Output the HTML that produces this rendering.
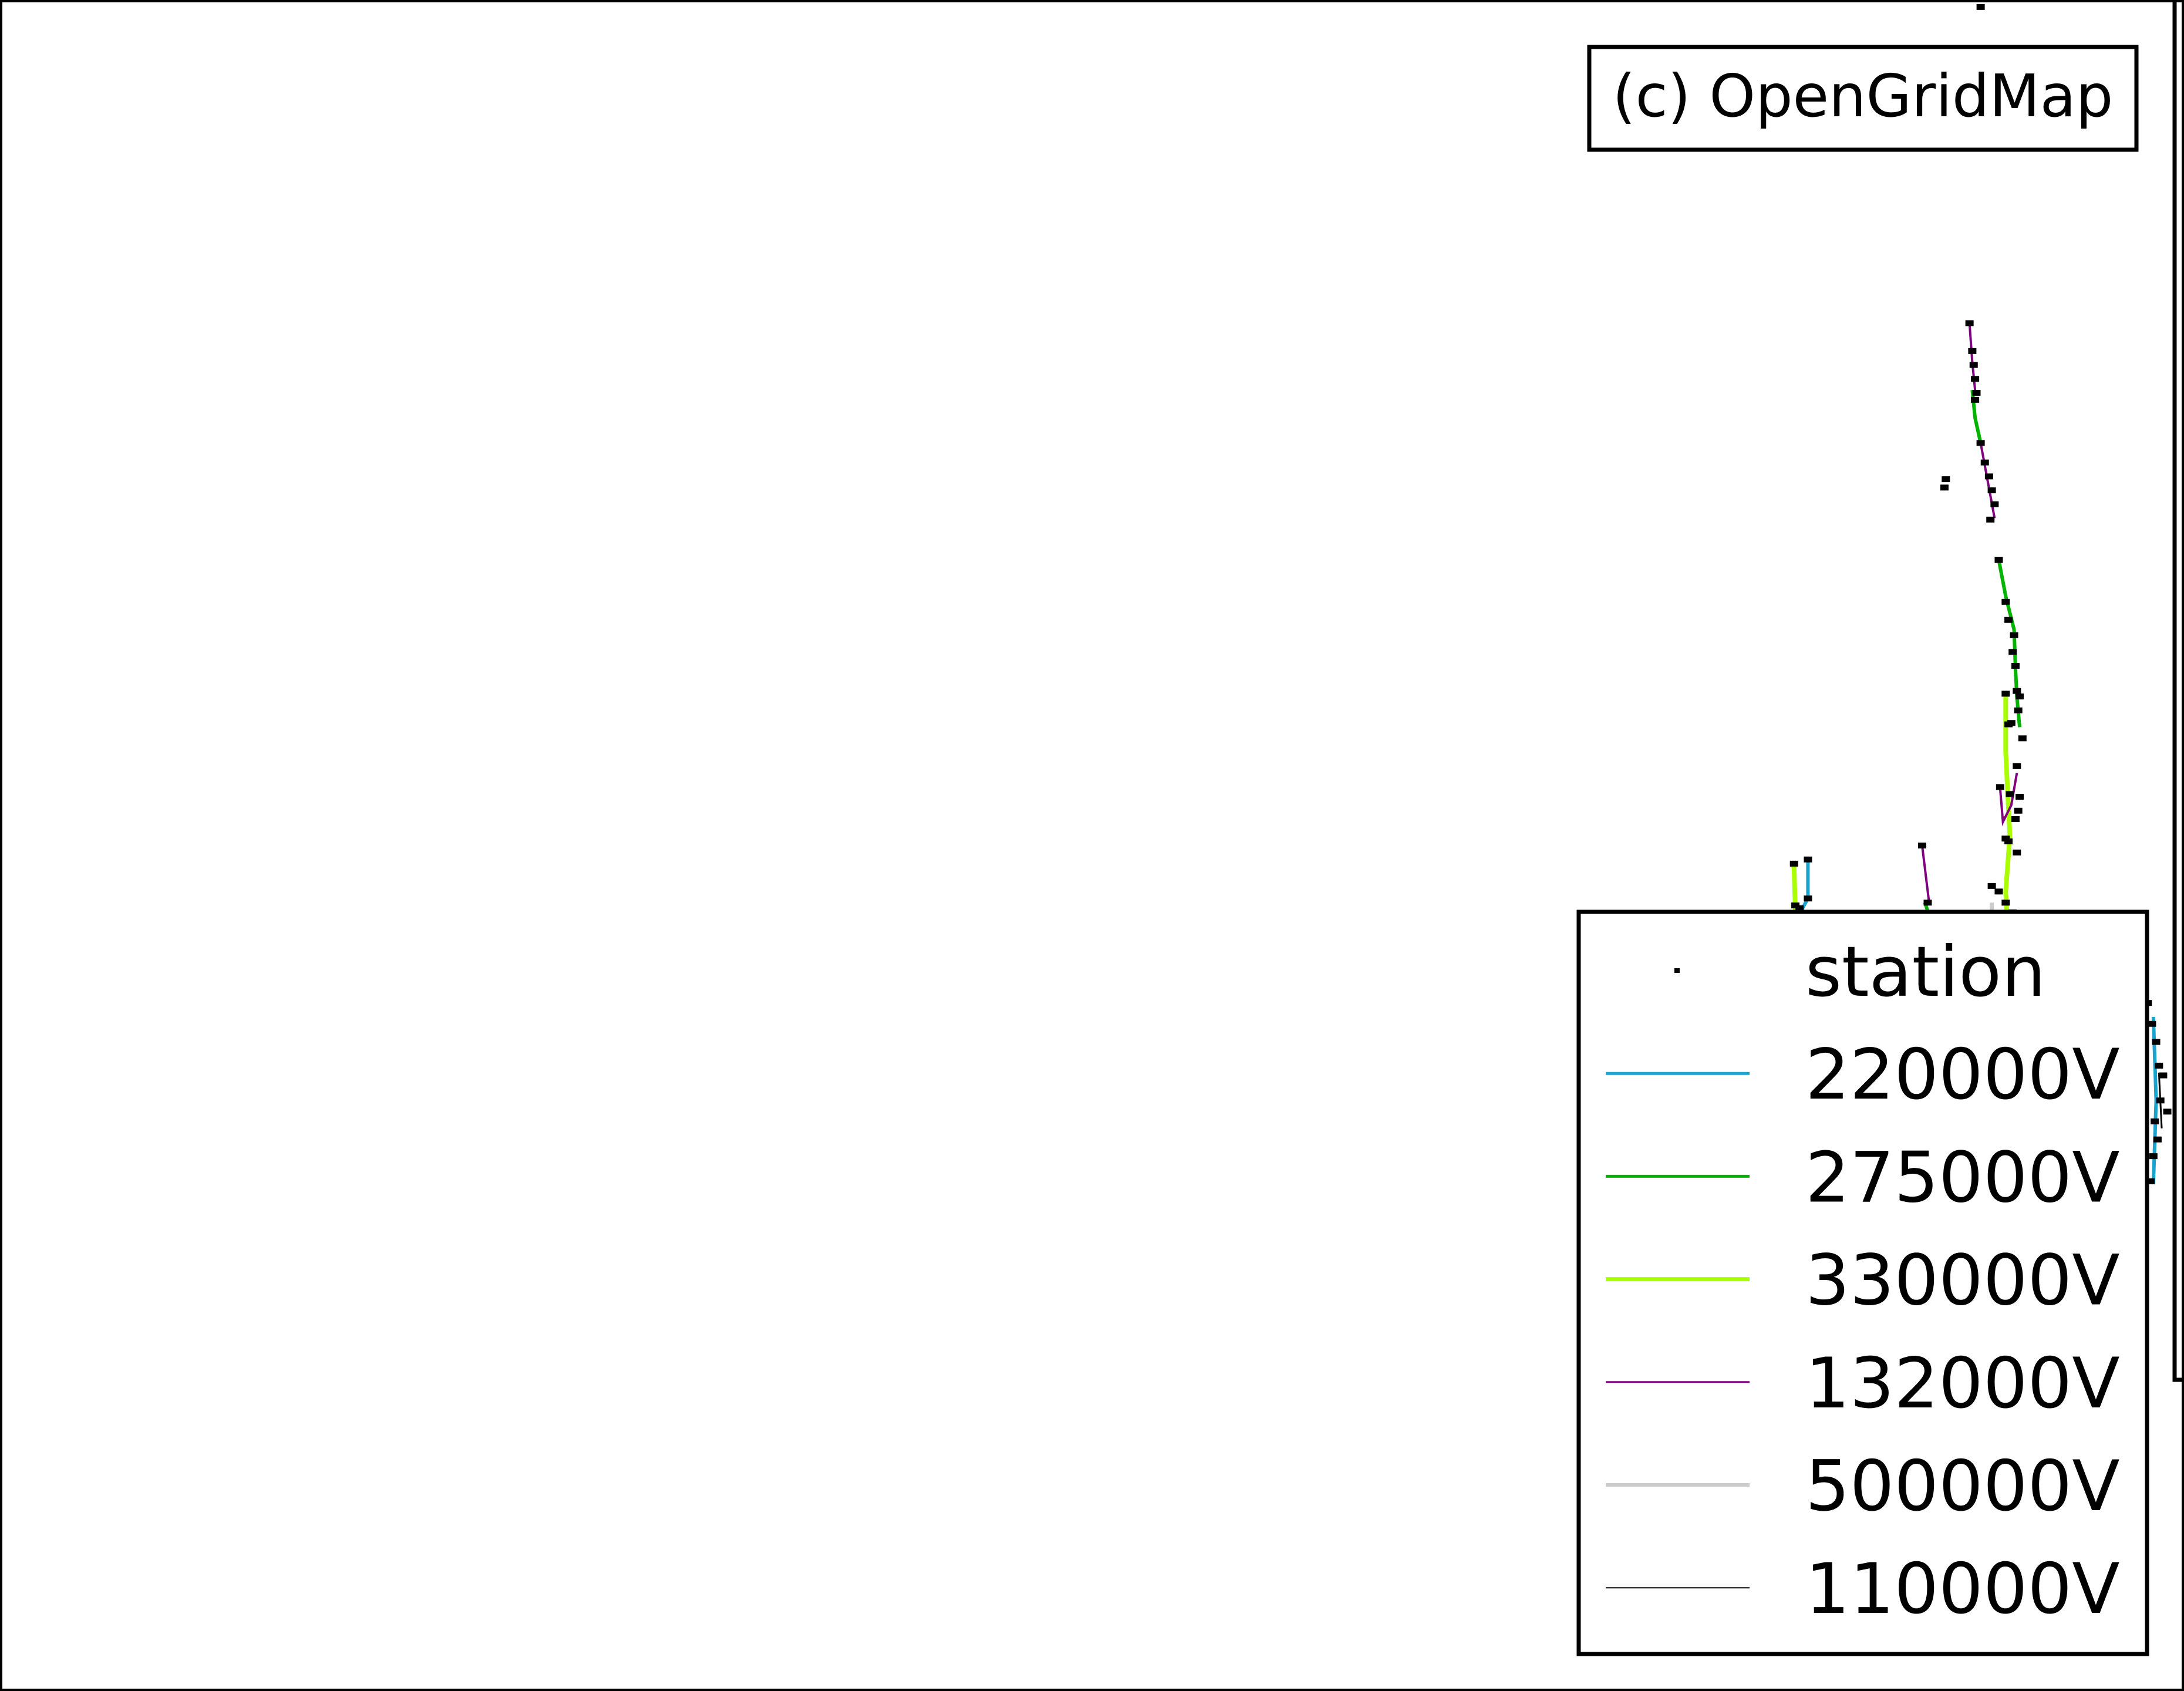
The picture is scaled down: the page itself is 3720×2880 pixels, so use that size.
<!DOCTYPE html>
<html><head><meta charset="utf-8"><style>
html,body{margin:0;padding:0;background:#fff}
svg{display:block}
text{font-family:"DejaVu Sans","Liberation Sans",sans-serif}
</style></head><body>
<svg id="chart" width="3720" height="2880" viewBox="0 0 3720 2880" xmlns="http://www.w3.org/2000/svg">
<rect x="2" y="2" width="3716" height="2876" fill="#fff" stroke="#000" stroke-width="4"/>
<polyline points="3704,0 3704,2350 3720,2350" fill="none" stroke="#000" stroke-width="7"/>
<g id="lines"></g>
<g id="stations"></g>
<g>
<rect x="2707" y="80" width="932" height="175" fill="#fff" stroke="#000" stroke-width="7"/>
<text x="3173" y="198" font-size="100" text-anchor="middle">(c) OpenGridMap</text>
</g>
<g id="legend">
<rect x="2689" y="1553" width="968" height="1264" fill="#fff" stroke="#000" stroke-width="7"/>
</g>
</svg>
<script>
// map coordinates (projected units)
const lines132 = [[[1414,232],[1416,260],[1418,280]],[[1422,318],[1427,345],[1432,372]],[[1380,607],[1385,648]],[[1436,566],[1438,590],[1444,578],[1448,555]],[[1412,780],[1414,790]]];
const lines275 = [[[1416,280],[1418,300],[1422,318]],[[1435,402],[1440,428],[1446,452],[1447,480],[1448,500],[1450,522]],[[1382,648],[1386,660]]];
const lines330 = [[[1440,500],[1440,540],[1443,600],[1440,640],[1441,660]],[[1288,622],[1289,654]]];
const lines220 = [[[1298,617],[1298,645],[1293,654]],[[1546,730],[1548,790],[1546,850]]];
const lines500 = [[[1430,648],[1430,660]]];
const lines110 = [[[1550,770],[1552,810]]];
const stationLon = [1422,1414,1416,1417,1418,1419,1418,1422,1425,1428,1430,1432,1429,1397,1396,1435,1440,1442,1446,1445,1447,1448,1440,1450,1449,1442,1444,1452,1448,1436,1443,1449,1447,1450,1440,1442,1448,1380,1384,1288,1289,1298,1298,1292,1430,1435,1440,1445,1542,1545,1548,1550,1553,1551,1547,1549,1546,1556,1544];
const stationLat = [5,232,252,262,272,282,287,318,332,342,352,362,373,344,350,402,432,445,456,468,478,496,498,500,510,520,519,530,550,565,570,582,588,572,602,604,612,607,648,620,650,617,645,652,636,640,648,655,720,735,748,765,772,790,805,818,830,798,848];
const legendLabels = ["station","220000V","275000V","330000V","132000V","500000V","110000V"];
const legendColors = [null,"#1aa3cc","#00b400","#aaff00","#800080","#cccccc","#000000"];
const legendWidths = [0,5,5,7,3,6,2];

const S = 3720/1568;
const xs = v => v*S, ys = v => v*S;
const NS = "http://www.w3.org/2000/svg";
const lg = document.getElementById('lines');
function drawSet(sets, color, w, name){
  sets.forEach(pts=>{
    const p = document.createElementNS(NS,'polyline');
    p.setAttribute('points', pts.map(q=>xs(q[0])+','+ys(q[1])).join(' '));
    p.setAttribute('fill','none'); p.setAttribute('stroke',color); p.setAttribute('stroke-width',w);
    
    
    lg.appendChild(p);
  });
}
drawSet(lines500,"#cccccc",7,'line-500kv');
drawSet(lines330,"#aaff00",8,'line-330kv');
drawSet(lines275,"#00b400",6,'line-275kv');
drawSet(lines220,"#1aa3cc",6,'line-220kv');
drawSet(lines132,"#800080",4,'line-132kv');
drawSet(lines110,"#000000",3,'line-110kv');
const sg = document.getElementById('stations');
stationLon.forEach((lo,i)=>{
  const r = document.createElementNS(NS,'rect');
  r.setAttribute('x', xs(lo)-7); r.setAttribute('y', ys(stationLat[i])-5);
  r.setAttribute('width',14); r.setAttribute('height',10); r.setAttribute('fill','#000');
  
  
  sg.appendChild(r);
});
const leg = document.getElementById('legend');
legendLabels.forEach((lab,i)=>{
  const y = 1653 + i*175.2;
  if(i===0){
    const r = document.createElementNS(NS,'rect');
    r.setAttribute('x',2852); r.setAttribute('y',y-4); r.setAttribute('width',9); r.setAttribute('height',8); r.setAttribute('fill','#000');
    
    
    leg.appendChild(r);
  } else {
    const l = document.createElementNS(NS,'line');
    l.setAttribute('x1',2735); l.setAttribute('x2',2980); l.setAttribute('y1',y); l.setAttribute('y2',y);
    l.setAttribute('stroke',legendColors[i]); l.setAttribute('stroke-width',legendWidths[i]);
    
    
    leg.appendChild(l);
  }
  const t = document.createElementNS(NS,'text');
  t.setAttribute('x',3075); t.setAttribute('y',y+43); t.setAttribute('font-size',119);
  t.textContent = lab;
  
  
  leg.appendChild(t);
});
</script>
</body></html>
